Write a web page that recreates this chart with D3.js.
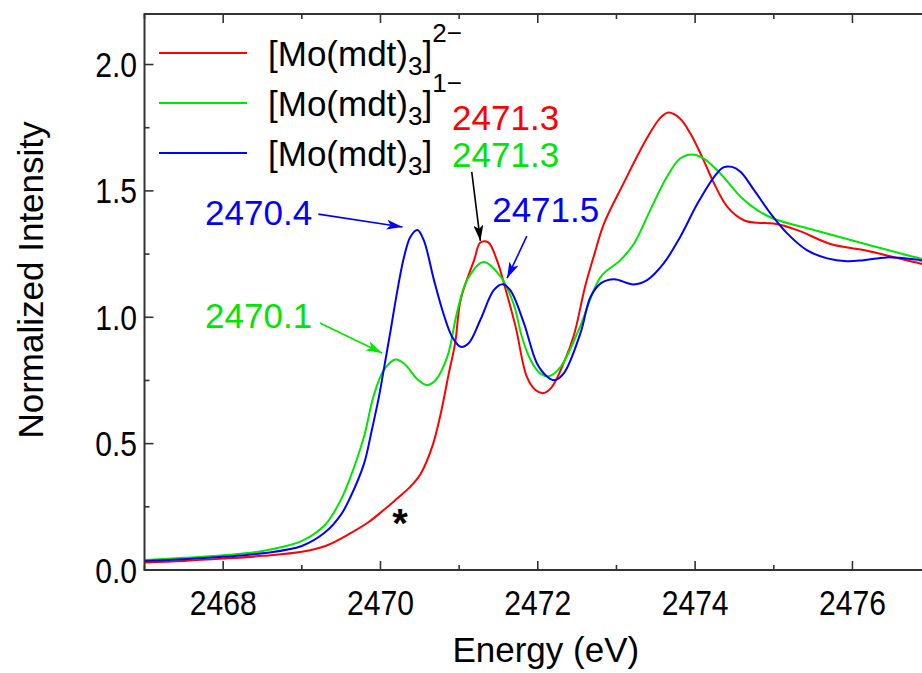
<!DOCTYPE html>
<html>
<head>
<meta charset="utf-8">
<script src="https://cdn.jsdelivr.net/npm/d3@7"></script>
<style>
  body { margin: 0; background: #fff; }
  svg { display: block; font-family: "Liberation Sans", Arial, sans-serif; }
</style>
</head>
<body>
<svg width="922" height="673"></svg>
<script>
// spectra: energy (eV) and normalized intensity
let energyRed = [2467.0, 2467.5, 2468.0, 2468.5, 2469.0, 2469.3, 2469.62, 2469.85, 2470.04, 2470.2, 2470.38, 2470.51, 2470.66, 2470.76, 2470.87, 2470.95, 2471.02, 2471.19, 2471.27, 2471.37, 2471.48, 2471.6, 2471.72, 2471.86, 2471.97, 2472.07, 2472.18, 2472.33, 2472.46, 2472.6, 2472.72, 2472.84, 2473.09, 2473.39, 2473.56, 2473.66, 2473.81, 2473.94, 2474.11, 2474.24, 2474.41, 2474.62, 2474.79, 2475.0, 2475.3, 2475.72, 2476.14, 2476.86, 2477.0];
let intensityRed = [0.030, 0.036, 0.045, 0.056, 0.072, 0.095, 0.146, 0.19, 0.237, 0.28, 0.33, 0.38, 0.49, 0.61, 0.78, 0.90, 1.07, 1.226, 1.296, 1.296, 1.226, 1.10, 0.96, 0.765, 0.712, 0.70, 0.725, 0.82, 0.93, 1.12, 1.25, 1.37, 1.53, 1.71, 1.79, 1.81, 1.786, 1.727, 1.62, 1.53, 1.437, 1.384, 1.374, 1.371, 1.345, 1.29, 1.266, 1.213, 1.205];

let energyGreen = [2467.0, 2467.5, 2468.0, 2468.5, 2469.0, 2469.3, 2469.5, 2469.62, 2469.79, 2469.91, 2470.04, 2470.19, 2470.30, 2470.46, 2470.59, 2470.70, 2470.85, 2470.97, 2471.10, 2471.31, 2471.53, 2471.69, 2471.80, 2471.91, 2472.03, 2472.14, 2472.29, 2472.52, 2472.80, 2473.05, 2473.22, 2473.43, 2473.64, 2473.81, 2473.96, 2474.11, 2474.32, 2474.58, 2474.79, 2475.0, 2475.51, 2476.14, 2476.86, 2477.0];
let intensityGreen = [0.040, 0.048, 0.058, 0.075, 0.115, 0.18, 0.28, 0.369, 0.527, 0.685, 0.79, 0.833, 0.817, 0.758, 0.732, 0.751, 0.844, 1.015, 1.147, 1.219, 1.16, 1.055, 0.92, 0.83, 0.778, 0.767, 0.804, 0.95, 1.16, 1.226, 1.29, 1.424, 1.555, 1.628, 1.644, 1.628, 1.569, 1.476, 1.424, 1.39, 1.345, 1.292, 1.233, 1.225];

let energyBlue = [2467.0, 2467.5, 2468.0, 2468.5, 2469.0, 2469.3, 2469.5, 2469.62, 2469.79, 2469.89, 2469.98, 2470.04, 2470.13, 2470.20, 2470.30, 2470.38, 2470.47, 2470.55, 2470.68, 2470.80, 2470.91, 2471.02, 2471.12, 2471.27, 2471.44, 2471.55, 2471.65, 2471.82, 2471.99, 2472.12, 2472.21, 2472.33, 2472.54, 2472.67, 2472.80, 2472.97, 2473.22, 2473.39, 2473.60, 2473.81, 2474.03, 2474.24, 2474.36, 2474.47, 2474.58, 2474.75, 2474.96, 2475.17, 2475.42, 2475.68, 2475.93, 2476.14, 2476.44, 2476.86, 2477.0];
let intensityBlue = [0.036, 0.043, 0.052, 0.066, 0.095, 0.15, 0.22, 0.29, 0.42, 0.554, 0.685, 0.79, 0.95, 1.08, 1.239, 1.318, 1.345, 1.305, 1.147, 1.015, 0.923, 0.883, 0.897, 0.99, 1.107, 1.131, 1.107, 0.98, 0.817, 0.765, 0.751, 0.778, 0.935, 1.08, 1.134, 1.15, 1.13, 1.147, 1.213, 1.318, 1.45, 1.555, 1.593, 1.595, 1.575, 1.503, 1.41, 1.332, 1.266, 1.233, 1.222, 1.226, 1.237, 1.226, 1.22];

let xTicks = [2468, 2470, 2472, 2474, 2476];
let yTicks = [0.0, 0.5, 1.0, 1.5, 2.0];

let series = [
  { name: "red", color: "#ff0000", e: energyRed, v: intensityRed, charge: "2\u2212" },
  { name: "green", color: "#00e600", e: energyGreen, v: intensityGreen, charge: "1\u2212" },
  { name: "blue", color: "#0000ff", e: energyBlue, v: intensityBlue, charge: "" }
];

// peak labels and arrows, in data coordinates
let peakLabels = [
  { text: "2470.4", color: "#0000ff", e: 2467.77, v: 1.365 },
  { text: "2470.1", color: "#00e600", e: 2467.77, v: 0.957 },
  { text: "2471.5", color: "#0000ff", e: 2471.42, v: 1.377 },
  { text: "2471.3", color: "#ff0000", e: 2470.91, v: 1.741 },
  { text: "2471.3", color: "#00e600", e: 2470.91, v: 1.594 }
];
let peakArrows = [
  { color: "#0000ff", e1: 2469.21, v1: 1.408, e2: 2470.28, v2: 1.357 },
  { color: "#00e600", e1: 2469.23, v1: 0.977, e2: 2470.02, v2: 0.859 },
  { color: "#0000ff", e1: 2471.86, v1: 1.321, e2: 2471.61, v2: 1.155 },
  { color: "#000000", e1: 2471.16, v1: 1.575, e2: 2471.27, v2: 1.302 }
];

let svg = d3.select('svg');
let mLeft = 144.5, mTop = 14, mRight = 931.1, mBottom = 570;

let x = d3.scaleLinear().domain([2467, 2477]).range([mLeft, mRight]);
let y = d3.scaleLinear().domain([0, 2.2]).range([mBottom, mTop]);

// markers for arrowheads
let defs = svg.append('defs');
['#0000ff', '#00e600', '#000000'].forEach(function (c, i) {
  defs.append('marker')
    .attr('id', 'arr' + i)
    .attr('viewBox', '0 0 16 10')
    .attr('refX', 16).attr('refY', 5)
    .attr('markerWidth', 16).attr('markerHeight', 10)
    .attr('markerUnits', 'userSpaceOnUse')
    .attr('orient', 'auto')
    .append('path')
    .attr('d', 'M0,0 L16,5 L0,10 L4,5 Z')
    .attr('fill', c);
});
let markerFor = { '#0000ff': 'url(#arr0)', '#00e600': 'url(#arr1)', '#000000': 'url(#arr2)' };

// curves
let line = d3.line()
  .x(function (d) { return x(d[0]); })
  .y(function (d) { return y(d[1]); })
  .curve(d3.curveCatmullRom.alpha(0.5));

let plot = svg.append('g');
plot.append('clipPath').attr('id', 'clip')
  .append('rect').attr('x', mLeft).attr('y', mTop).attr('width', mRight - mLeft).attr('height', mBottom - mTop);

plot.selectAll('path.curve')
  .data(series)
  .join('path')
  .attr('class', 'curve')
  .attr('clip-path', 'url(#clip)')
  .attr('fill', 'none')
  .attr('stroke', function (d) { return d.color; })
  .attr('stroke-width', 2)
  .attr('d', function (d) { return line(d3.zip(d.e, d.v)); });

// axes: frame with inward ticks on all sides
let axisColor = '#333';
let tickSize = 9, minorSize = 5;
svg.append('rect')
  .attr('x', mLeft).attr('y', mTop)
  .attr('width', mRight - mLeft).attr('height', mBottom - mTop)
  .attr('fill', 'none').attr('stroke', axisColor).attr('stroke-width', 2);

let xMinor = d3.range(2467, 2478, 1).filter(function (t) { return xTicks.indexOf(t) < 0; });
let yMinor = d3.range(0.25, 2.2, 0.5);

let ticks = svg.append('g').attr('stroke', axisColor).attr('stroke-width', 1.6);
xTicks.concat(xMinor).forEach(function (t) {
  let len = xTicks.indexOf(t) >= 0 ? tickSize : minorSize;
  ticks.append('line').attr('x1', x(t)).attr('x2', x(t)).attr('y1', mBottom).attr('y2', mBottom - len);
  ticks.append('line').attr('x1', x(t)).attr('x2', x(t)).attr('y1', mTop).attr('y2', mTop + len);
});
yTicks.concat(yMinor).forEach(function (t) {
  let len = yTicks.indexOf(t) >= 0 ? tickSize : minorSize;
  ticks.append('line').attr('y1', y(t)).attr('y2', y(t)).attr('x1', mLeft).attr('x2', mLeft + len);
  ticks.append('line').attr('y1', y(t)).attr('y2', y(t)).attr('x1', mRight).attr('x2', mRight - len);
});

// tick labels: tall, slightly narrow digits as in the original
let narrow = 0.86;
svg.selectAll('text.xt')
  .data(xTicks)
  .join('text')
  .attr('class', 'xt')
  .attr('transform', function (d) { return 'translate(' + x(d) + ',615) scale(' + narrow + ',1)'; })
  .attr('text-anchor', 'middle')
  .attr('font-size', 35)
  .text(function (d) { return d; });

svg.selectAll('text.yt')
  .data(yTicks)
  .join('text')
  .attr('class', 'yt')
  .attr('transform', function (d) { return 'translate(137,' + (y(d) + 12.5) + ') scale(' + narrow + ',1)'; })
  .attr('text-anchor', 'end')
  .attr('font-size', 35)
  .text(function (d) { return d.toFixed(1); });

svg.append('text')
  .attr('x', (mLeft + mRight) / 2 + 8)
  .attr('y', 662)
  .attr('text-anchor', 'middle')
  .attr('font-size', 35)
  .text('Energy (eV)');

svg.append('text')
  .attr('transform', 'translate(43,' + 280 + ') rotate(-90)')
  .attr('text-anchor', 'middle')
  .attr('font-size', 35)
  .text('Normalized Intensity');

// legend
let legend = svg.append('g');
series.forEach(function (s, i) {
  let ly = 53 + i * 50;
  legend.append('line')
    .attr('x1', 159).attr('x2', 247).attr('y1', ly).attr('y2', ly)
    .attr('stroke', s.color).attr('stroke-width', 2.2);
  let t = legend.append('text')
    .attr('x', 268).attr('y', ly + 13)
    .attr('font-size', 35);
  t.append('tspan').text('[Mo(mdt)');
  t.append('tspan').attr('font-size', 26).attr('dy', 9).text('3');
  t.append('tspan').attr('dy', -9).text(']');
  if (s.charge) t.append('tspan').attr('font-size', 26).attr('dy', -24).text(s.charge);
});

// peak labels
svg.selectAll('text.peak')
  .data(peakLabels)
  .join('text')
  .attr('class', 'peak')
  .attr('x', function (d) { return x(d.e); })
  .attr('y', function (d) { return y(d.v); })
  .attr('font-size', 35)
  .attr('fill', function (d) { return d.color; })
  .text(function (d) { return d.text; });

svg.selectAll('line.arrow')
  .data(peakArrows)
  .join('line')
  .attr('class', 'arrow')
  .attr('x1', function (d) { return x(d.e1); })
  .attr('y1', function (d) { return y(d.v1); })
  .attr('x2', function (d) { return x(d.e2); })
  .attr('y2', function (d) { return y(d.v2); })
  .attr('stroke', function (d) { return d.color; })
  .attr('stroke-width', 1.6)
  .attr('marker-end', function (d) { return markerFor[d.color]; });

svg.append('text')
  .attr('x', x(2470.25))
  .attr('y', y(0.21) + 20)
  .attr('text-anchor', 'middle')
  .attr('font-size', 40)
  .attr('font-weight', 'bold')
  .text('*');
</script>
</body>
</html>
